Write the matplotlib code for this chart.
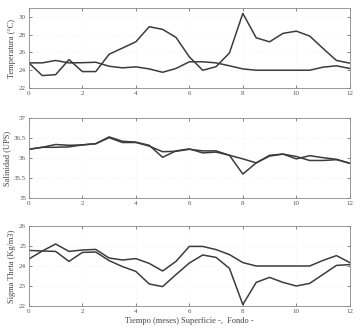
import matplotlib
matplotlib.use("Agg")
import matplotlib.pyplot as plt

months = [0, 0.5, 1, 1.5, 2, 2.5, 3, 3.5, 4, 4.5, 5, 5.5, 6, 6.5, 7, 7.5, 8, 8.5, 9, 9.5, 10, 10.5, 11, 11.5, 12]

temp_sup = [24.83, 23.4, 23.5, 25.2, 23.85, 23.85, 25.8, 26.5, 27.2, 28.9, 28.6, 27.7, 25.5, 24.0, 24.4, 25.95, 30.4, 27.65, 27.2, 28.15, 28.4, 27.85, 26.45, 25.1, 24.8]
temp_fon = [24.83, 24.83, 25.1, 24.83, 24.85, 24.9, 24.45, 24.27, 24.38, 24.15, 23.77, 24.2, 24.95, 24.95, 24.83, 24.5, 24.15, 24.0, 24.0, 24.0, 24.0, 24.0, 24.35, 24.5, 24.2]

sal_sup = [36.22, 36.27, 36.34, 36.32, 36.33, 36.36, 36.53, 36.42, 36.4, 36.32, 36.02, 36.18, 36.23, 36.13, 36.15, 36.07, 35.6, 35.88, 36.07, 36.1, 35.98, 36.06, 36.01, 35.97, 35.87]
sal_fon = [36.22, 36.27, 36.27, 36.28, 36.33, 36.36, 36.51, 36.39, 36.39, 36.3, 36.16, 36.17, 36.22, 36.18, 36.18, 36.07, 35.98, 35.88, 36.05, 36.1, 36.04, 35.94, 35.94, 35.96, 35.87]

sig_sup = [24.78, 24.75, 24.73, 24.23, 24.68, 24.7, 24.27, 23.97, 23.73, 23.1, 22.97, 23.57, 24.15, 24.55, 24.43, 23.88, 22.07, 23.18, 23.43, 23.18, 23.0, 23.13, 23.58, 24.03, 24.07]
sig_fon = [24.35, 24.75, 25.1, 24.73, 24.8, 24.83, 24.4, 24.3, 24.37, 24.13, 23.75, 24.23, 24.98, 24.98, 24.82, 24.57, 24.17, 24.0, 24.0, 24.0, 24.0, 24.0, 24.28, 24.52, 24.17]

x_ticks = [0, 2, 4, 6, 8, 10, 12]
temp_ticks = [22, 24, 26, 28, 30]
sal_ticks = [35, 35.5, 36, 36.5, 37]
sal_labels = ["35", "35.5", "36", "36.5", "37"]
sig_ticks = [22, 23, 24, 25, 26]

plt.rcParams['font.family'] = ['Liberation Serif', 'DejaVu Serif']

fig = plt.figure(figsize=(3.61, 3.29), dpi=100)
line_col = '#3c3c3c'

def style(ax):
    ax.set_xlim(0, 12)
    ax.set_xticks(x_ticks)
    ax.tick_params(direction='in', length=2, width=0.5, labelsize=5, colors='#555555',
                   top=True, right=True, pad=2)
    for s in ax.spines.values():
        s.set_color('#888888')
        s.set_linewidth(0.6)
    ax.grid(True, color='#ececec', linewidth=0.4, linestyle=':')

ax1 = fig.add_axes([0.080, 0.7325, 0.889, 0.243])
ax1.plot(months, temp_sup, color=line_col, lw=1.1)
ax1.plot(months, temp_fon, color=line_col, lw=1.1)
ax1.set_ylim(22, 31)
ax1.set_yticks(temp_ticks)
ax1.set_ylabel('Temperatura (°C)', fontsize=6, color='#444444', labelpad=2)
style(ax1)

ax2 = fig.add_axes([0.080, 0.398, 0.889, 0.243])
ax2.plot(months, sal_sup, color=line_col, lw=1.1)
ax2.plot(months, sal_fon, color=line_col, lw=1.1)
ax2.set_ylim(35, 37)
ax2.set_yticks(sal_ticks)
ax2.set_yticklabels(sal_labels)
ax2.set_ylabel('Salinidad (UPS)', fontsize=6, color='#444444', labelpad=2)
style(ax2)

ax3 = fig.add_axes([0.080, 0.070, 0.889, 0.243])
ax3.plot(months, sig_sup, color=line_col, lw=1.1)
ax3.plot(months, sig_fon, color=line_col, lw=1.1)
ax3.set_ylim(22, 26)
ax3.set_yticks(sig_ticks)
ax3.set_ylabel('Sigma Theta (Kg/m3)', fontsize=6, color='#444444', labelpad=2)
ax3.set_xlabel('Tiempo (meses) Superficie -,  Fondo -', fontsize=6, color='#444444', labelpad=2)
style(ax3)

fig.savefig('out.png', dpi=100)
